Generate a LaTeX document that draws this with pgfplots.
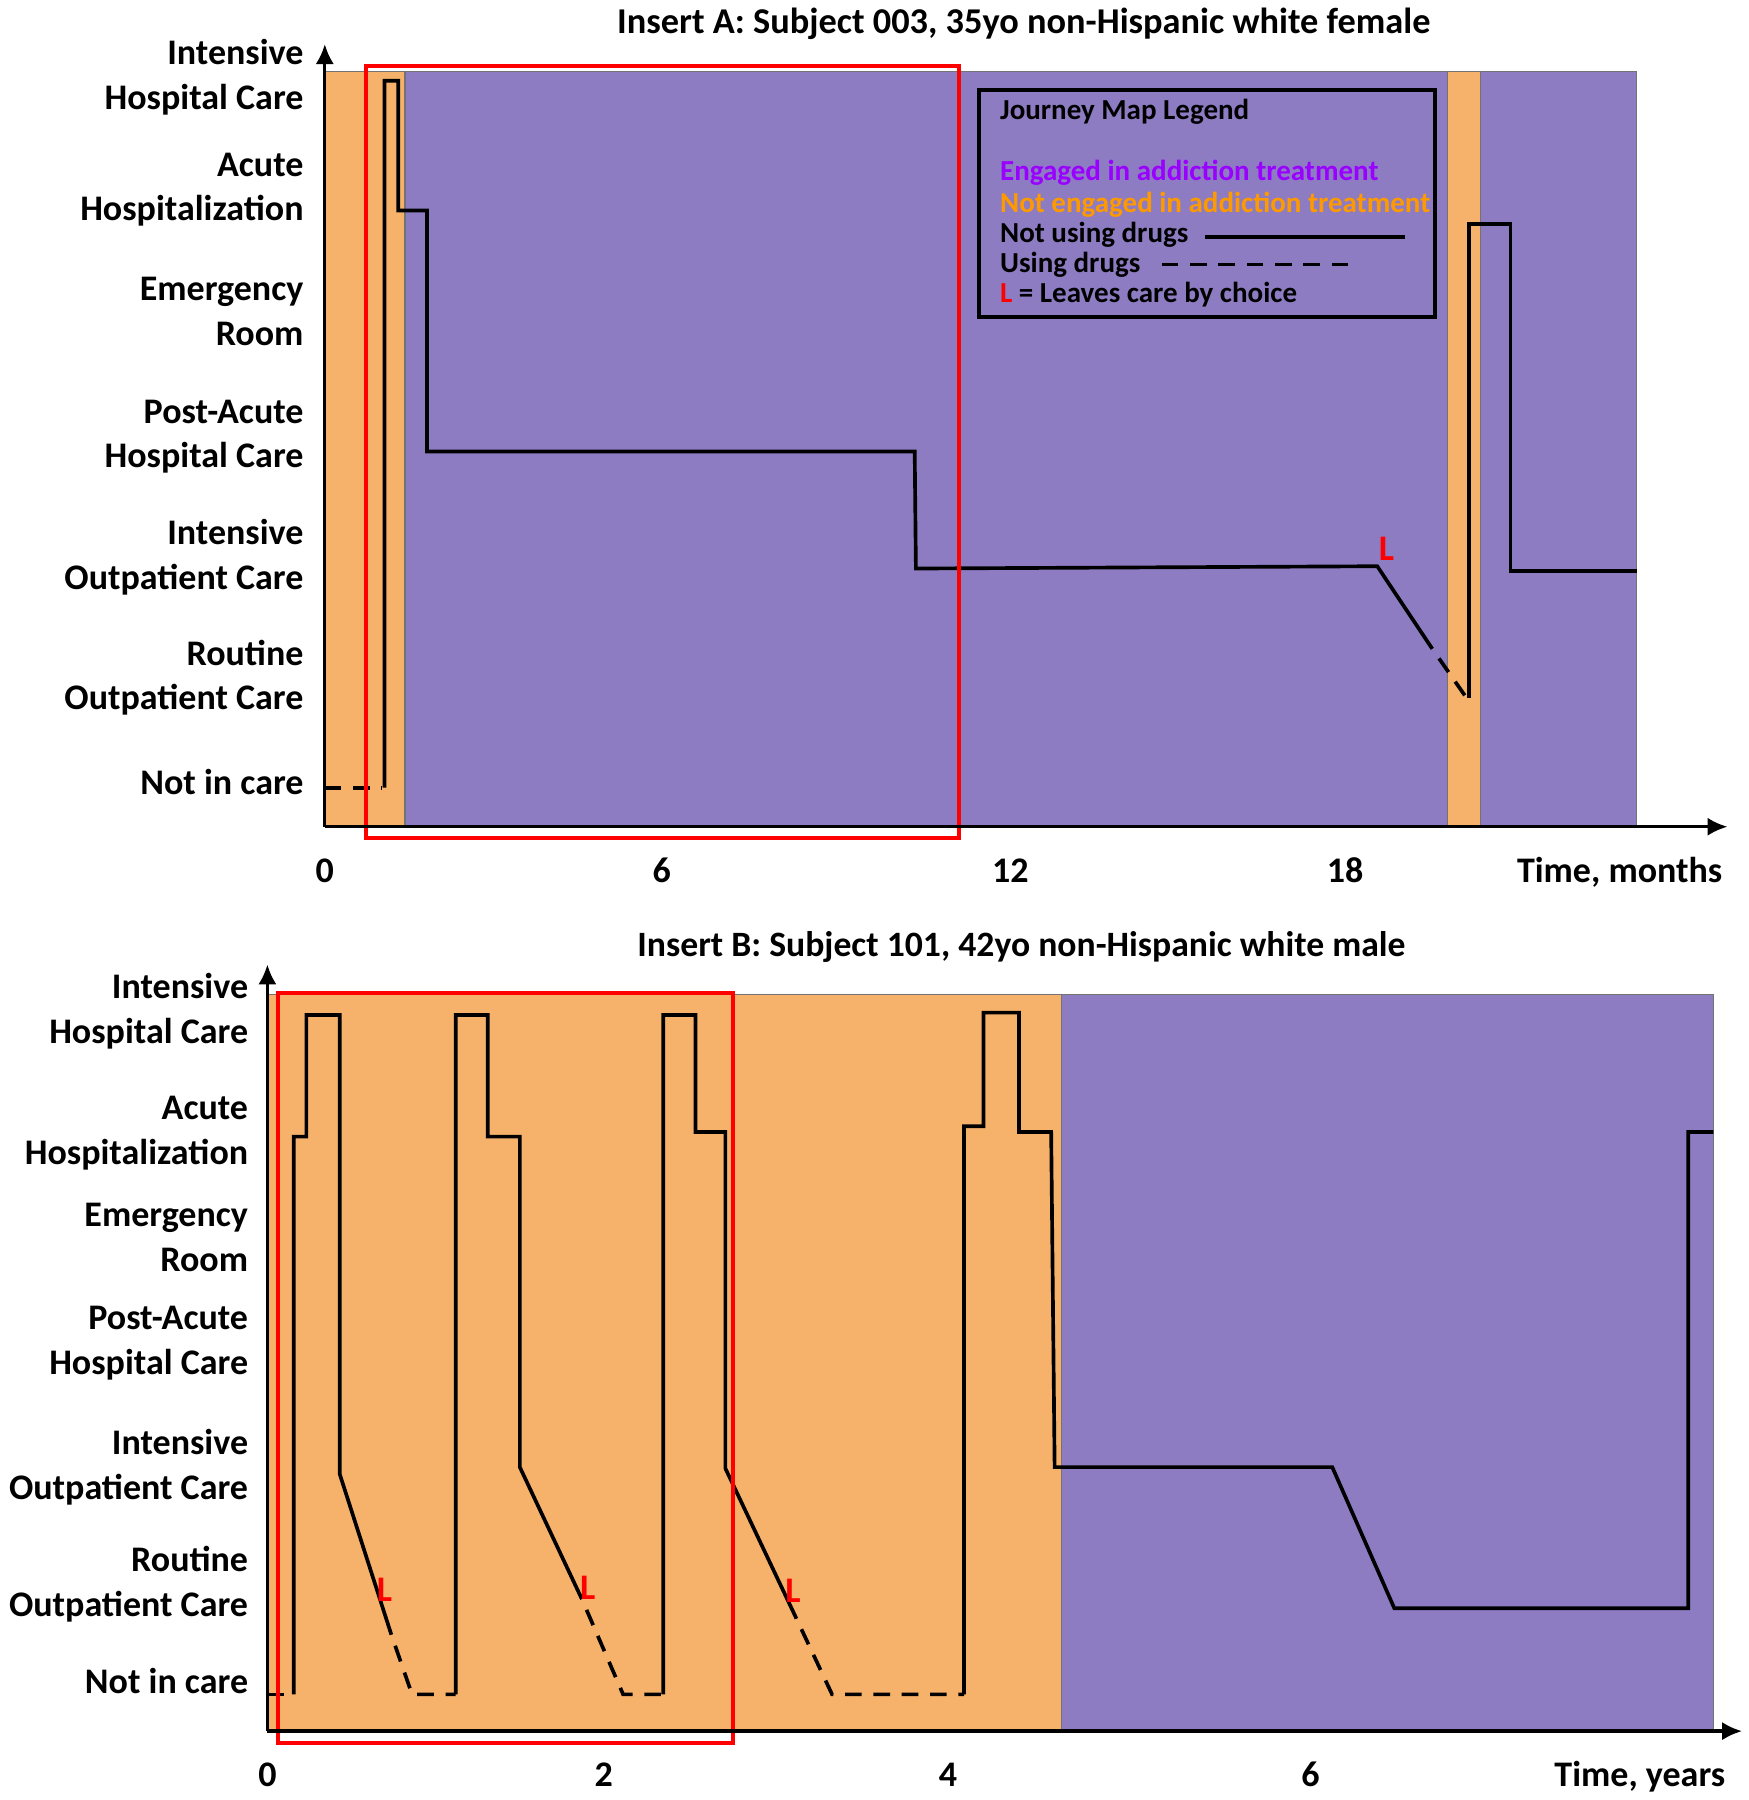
\documentclass[border=0pt]{standalone}
\usepackage{fontspec}
\setmainfont{Carlito}
\usepackage{pgfplots}
\pgfplotsset{compat=1.18}
\usetikzlibrary{arrows.meta}
\definecolor{bgor}{HTML}{F6B26B}
\definecolor{bgpu}{HTML}{8E7CC3}
\definecolor{txpu}{HTML}{9900FF}
\definecolor{txor}{HTML}{FF9900}
\newcommand{\ttl}{\fontsize{10.8}{13}\selectfont\bfseries}
\newcommand{\lgf}{\fontsize{8.7}{9}\selectfont\bfseries}
\pgfplotsset{
  journey/.style={
    scale only axis, clip=false, axis on top,
    axis lines=left,
    axis line style={line width=1pt, -{Latex[length=6pt,width=5.5pt]}},
    major tick length=0pt,
    xmin=0, ymin=0,
    tick label style={font=\fontsize{10.8}{13.4}\selectfont\bfseries, inner sep=0pt},
    yticklabel style={align=right, anchor=east, xshift=-6.2pt},
    xticklabel style={anchor=north, text height=7pt, text depth=2pt, yshift=-9.5pt},
  },
  bgbox/.style={draw=black!55, line width=0.4pt, fill=#1},
  path/.style={black, line width=1.1pt, line join=miter},
  dpath/.style={black, line width=1.1pt, dash pattern=on 5pt off 3.5pt},
  redbox/.style={draw=red, line width=1.2pt},
}
\tikzset{lgd/.style={font=\lgf, anchor=base west, inner sep=0pt}}
\begin{document}
\begin{tikzpicture}
\path[use as bounding box] (0,0) rectangle (524.4pt,540pt);
% ---------------- Insert A ----------------
\begin{axis}[journey, at={(97.44pt,291.97pt)}, anchor=south west,
  width=420.8pt, height=234.8pt, xmax=24.72, ymax=682,
  xtick={0,5.94,12.08,17.98,22.82},
  xticklabels={0,6,12,18,{Time, months}},
  ytick={39,130,235,340,449,555,653},
  yticklabels={{Not in care},{Routine\\Outpatient Care},{Intensive\\Outpatient Care},{Post-Acute\\Hospital Care},{Emergency\\Room},{Acute\\Hospitalization},{Intensive\\Hospital Care}}]
\addplot[bgbox=bgor] coordinates {(0,0) (1.416,0) (1.416,658) (0,658)} -- cycle;
\addplot[bgbox=bgpu] coordinates {(1.416,0) (19.78,0) (19.78,658) (1.416,658)} -- cycle;
\addplot[bgbox=bgor] coordinates {(19.78,0) (20.37,0) (20.37,658) (19.78,658)} -- cycle;
\addplot[bgbox=bgpu] coordinates {(20.37,0) (23.12,0) (23.12,658) (20.37,658)} -- cycle;
% journey
\addplot[dpath] coordinates {(0,34) (1.011,34)};
\addplot[path] coordinates {(1.052,34) (1.052,650) (1.294,650) (1.294,537) (1.800,537) (1.800,327) (10.396,327) (10.417,225) (18.548,227) (19.518,155)};
\addplot[dpath, dash phase=5pt] coordinates {(19.518,155) (20.125,112)};
\addplot[path] coordinates {(20.166,112) (20.166,525) (20.894,525) (20.894,223) (23.12,223)};
\node[text=red, font=\ttl] at (axis cs:18.71,242) {L};
% red frame
\addplot[redbox] coordinates {(0.728,-10) (11.185,-10) (11.185,663) (0.728,663)} -- cycle;
% legend
\draw[line width=1.1pt] (axis cs:11.53,444) rectangle (axis cs:19.56,642);
\node[lgd] at (axis cs:11.89,616) {Journey Map Legend};
\node[lgd, text=txpu] at (axis cs:11.89,563) {Engaged in addiction treatment};
\node[lgd, text=txor] at (axis cs:11.89,535) {Not engaged in addiction treatment};
\node[lgd] at (axis cs:11.89,509) {Not using drugs};
\node[lgd] at (axis cs:11.89,483) {Using drugs};
\node[lgd] at (axis cs:11.89,457) {\textcolor{red}{L} = Leaves care by choice};
\addplot[black, line width=1pt] coordinates {(15.51,514) (19.04,514)};
\addplot[black, line width=1pt, dash pattern=on 5pt off 3.5pt] coordinates {(14.75,490) (18.04,490)};
\node[font=\fontsize{10.9}{13}\selectfont\bfseries] at (axis cs:12.318,700) {Insert A: Subject 003, 35yo non-Hispanic white female};
\end{axis}
% ---------------- Insert B ----------------
\begin{axis}[journey, at={(80.22pt,20.66pt)}, anchor=south west,
  width=442.4pt, height=230.0pt, xmax=8.482, ymax=668,
  yticklabel style={xshift=0.6pt},
  xtick={0,1.934,3.914,6,7.894},
  xticklabels={0,2,4,6,{Time, years}},
  ytick={44,128,230,338,430,521,627},
  yticklabels={{Not in care},{Routine\\Outpatient Care},{Intensive\\Outpatient Care},{Post-Acute\\Hospital Care},{Emergency\\Room},{Acute\\Hospitalization},{Intensive\\Hospital Care}}]
\addplot[bgbox=bgor] coordinates {(0,0) (4.568,0) (4.568,642) (0,642)} -- cycle;
\addplot[bgbox=bgpu] coordinates {(4.568,0) (8.317,0) (8.317,642) (4.568,642)} -- cycle;
% journey
\addplot[dpath] coordinates {(0,32) (0.139,32)};
\addplot[path] coordinates {(0.152,32) (0.152,518) (0.224,518) (0.224,624) (0.416,624) (0.416,224) (0.713,84)};
\addplot[dpath, dash phase=5pt] coordinates {(0.713,84) (0.832,32) (1.083,32)};
\addplot[path] coordinates {(1.083,32) (1.083,624) (1.267,624) (1.267,518) (1.452,518) (1.452,230) (1.809,115)};
\addplot[dpath, dash phase=5pt] coordinates {(1.809,115) (2.046,32) (2.277,32)};
\addplot[path] coordinates {(2.277,32) (2.277,624) (2.462,624) (2.462,522) (2.634,522) (2.634,229) (3.043,98)};
\addplot[dpath, dash phase=5pt] coordinates {(3.043,98) (3.248,32) (4.007,32)};
\addplot[path] coordinates {(4.007,32) (4.007,527) (4.119,527) (4.119,626) (4.323,626) (4.323,522) (4.508,522) (4.528,230) (6.125,230) (6.482,107) (8.172,107) (8.172,522) (8.317,522)};
\node[text=red, font=\ttl] at (axis cs:0.673,123) {L};
\node[text=red, font=\ttl] at (axis cs:1.842,125) {L};
\node[text=red, font=\ttl] at (axis cs:3.023,122) {L};
% red frame
\addplot[redbox] coordinates {(0.0594,-10) (2.680,-10) (2.680,643) (0.0594,643)} -- cycle;
\node[font=\fontsize{10.7}{13}\selectfont\bfseries] at (axis cs:4.337,683) {Insert B: Subject 101, 42yo non-Hispanic white male};
\end{axis}
\end{tikzpicture}
\end{document}
